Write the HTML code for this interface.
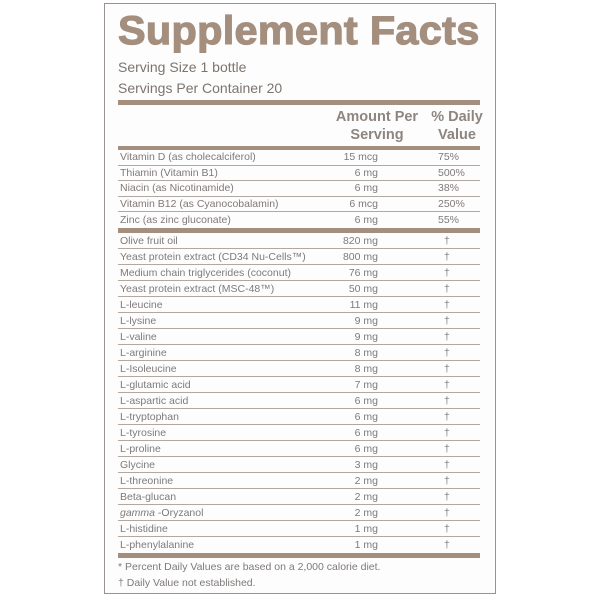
<!DOCTYPE html>
<html><head><meta charset="utf-8"><style>
body{margin:0;width:600px;height:600px;background:#fff;position:relative;font-family:"Liberation Sans",Arial,sans-serif;overflow:hidden}
.box{position:absolute;left:104px;top:3px;width:392px;height:591px;border:1.5px solid #9a9290;box-sizing:border-box;background:#fdfdfd}
.a{position:absolute;white-space:nowrap}
.title{left:118px;top:9px;font-size:40px;font-weight:bold;color:#a48e7e;letter-spacing:0.3px;transform:scaleX(1.035);transform-origin:left;-webkit-text-stroke:1.2px #a48e7e}
.sv{left:118px;font-size:14px;color:#7d7470}
.bar{position:absolute;left:118px;width:362px;background:#a48e7e}
.hd{font-size:14.5px;font-weight:bold;color:#8e8580;text-align:center}
.row{position:absolute;left:118px;width:362px;border-bottom:1px solid #b3a89f;font-size:10.5px;color:#7f7a78;box-sizing:border-box}
.row span{position:absolute;top:50%;transform:translateY(-50%)}
.n{left:2px}.m{right:102px}.d{left:320px}.dg{left:326px}
.ft{left:118px;font-size:10.5px;color:#7f7a78}
</style></head><body>
<div class="box"></div>
<div class="a title">Supplement Facts</div>
<div class="a sv" style="top:59px">Serving Size 1 bottle</div>
<div class="a sv" style="top:80px">Servings Per Container 20</div>
<div class="bar" style="top:100px;height:5px"></div>
<div class="a hd" style="left:330px;top:108px;width:94px;line-height:18px">Amount Per<br>Serving</div>
<div class="a hd" style="left:425px;top:108px;width:64px;line-height:18px">% Daily<br>Value</div>
<div class="bar" style="top:146px;height:4px"></div>
<div id="s1"></div>
<div class="bar" style="top:228px;height:5px"></div>
<div id="s2"></div>
<div class="bar" style="top:553px;height:5px"></div>
<div class="a ft" style="top:561px">* Percent Daily Values are based on a 2,000 calorie diet.</div>
<div class="a ft" style="top:577px">† Daily Value not established.</div>
<script>
const names1=["Vitamin D (as cholecalciferol)","Thiamin (Vitamin B1)","Niacin (as Nicotinamide)","Vitamin B12 (as Cyanocobalamin)","Zinc (as zinc gluconate)"];
const amounts1=["15 mcg","6 mg","6 mg","6 mcg","6 mg"];
const dv1=["75%","500%","38%","250%","55%"];
const names2=["Olive fruit oil","Yeast protein extract (CD34 Nu-Cells™)","Medium chain triglycerides (coconut)","Yeast protein extract (MSC-48™)","L-leucine","L-lysine","L-valine","L-arginine","L-Isoleucine","L-glutamic acid","L-aspartic acid","L-tryptophan","L-tyrosine","L-proline","Glycine","L-threonine","Beta-glucan","<i>gamma</i> -Oryzanol","L-histidine","L-phenylalanine"];
const amounts2=["820 mg","800 mg","76 mg","50 mg","11 mg","9 mg","9 mg","8 mg","8 mg","7 mg","6 mg","6 mg","6 mg","6 mg","3 mg","2 mg","2 mg","2 mg","1 mg","1 mg"];
function build(id,names,amts,dvs,top,h,dag){
  const c=document.getElementById(id);
  names.forEach((n,i)=>{
    const r=document.createElement('div');
    r.className='row';
    
    
    r.style.top=(top+i*h)+'px';r.style.height=h+'px';
    if(i===names.length-1)r.style.borderBottom='none';
    r.innerHTML='<span class="n">'+n+'</span><span class="m">'+amts[i]+'</span><span class="'+(dag?'dg':'d')+'">'+(dag?'†':dvs[i])+'</span>';
    c.appendChild(r);
  });
}
build('s1',names1,amounts1,dv1,150,15.6,false);
build('s2',names2,amounts2,null,233,16,true);
</script>
</body></html>
